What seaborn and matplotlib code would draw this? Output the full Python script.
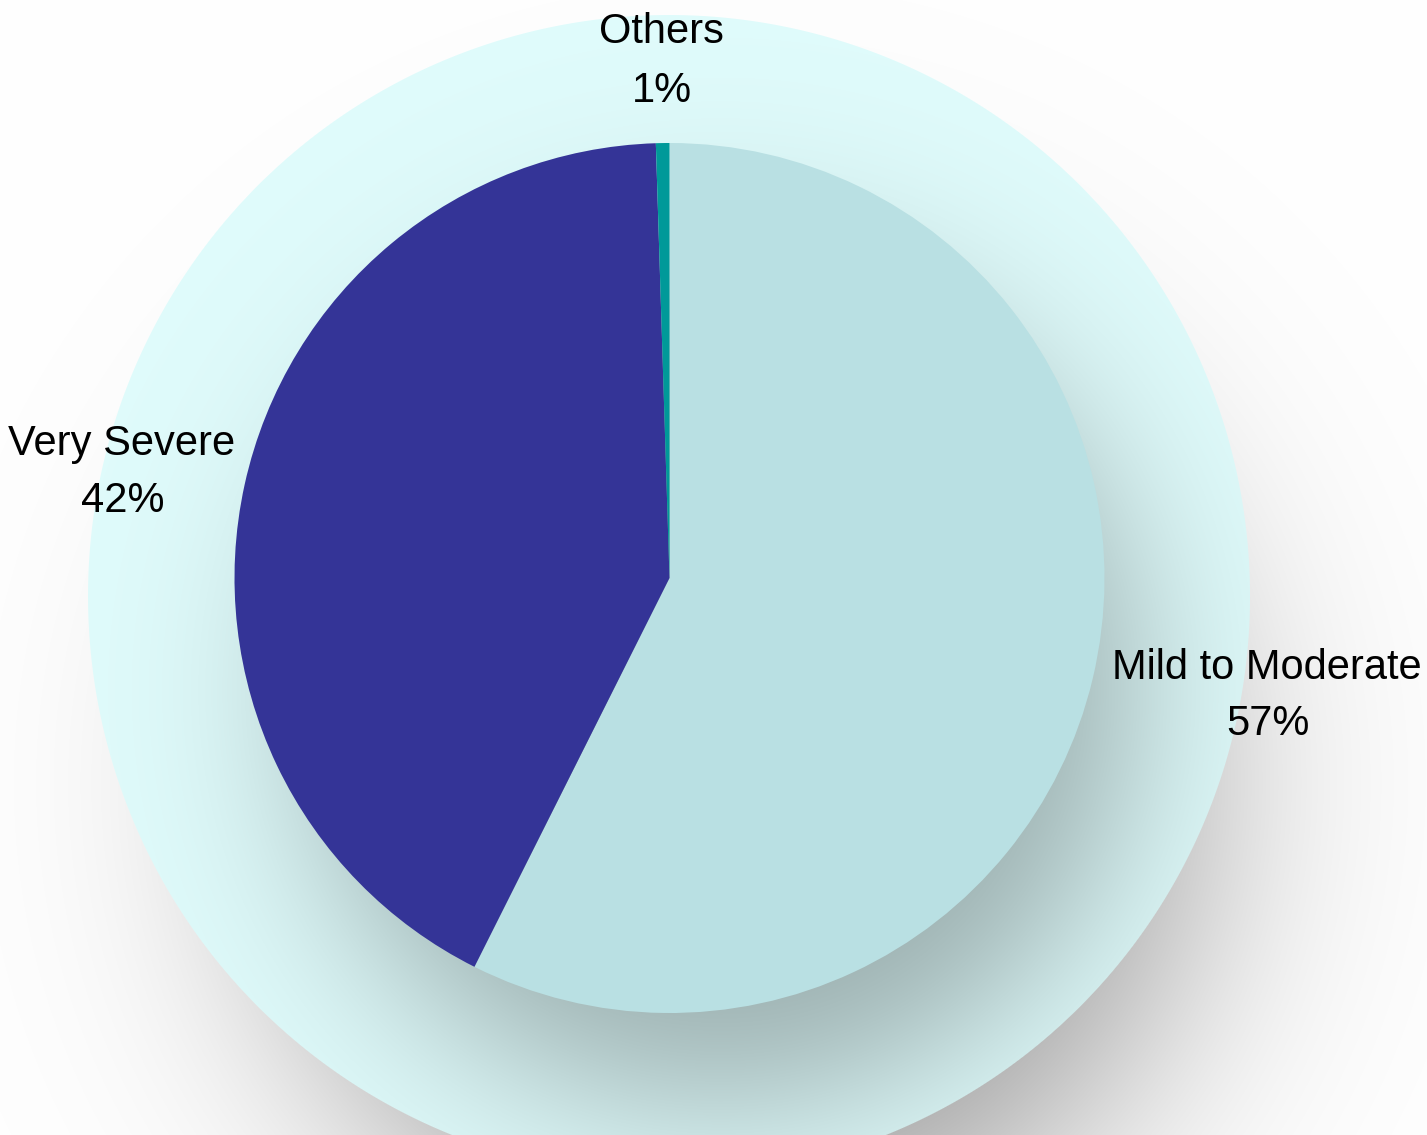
import numpy as np
import matplotlib
matplotlib.use("Agg")
import matplotlib.pyplot as plt
from matplotlib import font_manager
import seaborn as sns

# ---- data ----
categories = ["Mild to Moderate", "Very Severe", "Others"]
values = [57.4, 42.1, 0.5]
colors = ["#B9E0E3", "#343497", "#009999"]

sns.set_theme(style="white")

names = {f.name for f in font_manager.fontManager.ttflist}
if "Liberation Sans Narrow" in names:
    label_family = ["Liberation Sans Narrow", "DejaVu Sans"]
    label_size = 33
else:
    label_family = ["Liberation Sans", "DejaVu Sans"]
    label_size = 30
plt.rcParams['font.family'] = label_family

W, H = 1427, 1135
fig = plt.figure(figsize=(W / 100, H / 100), dpi=100)
ax = fig.add_axes([0, 0, 1, 1])

# geometry (pixel units, *_pix measured from the top)
pie_cx, pie_cy_pix, pie_r = 669.5, 578, 435
bg_cx, bg_cy_pix, bg_r = 669, 596, 581

# ---- background disc with soft shadows ----
yy, xx = np.mgrid[0:H, 0:W] + 0.5

def soft(sd, sigma):
    return 0.5 * (1 - np.tanh(sd / sigma))

img = np.ones((H, W, 3))
# outer drop shadow (offset down-right)
sd = np.hypot(xx - (bg_cx + 62), yy - (bg_cy_pix + 187)) - (bg_r - 126)
a = 0.40 * soft(sd, 150)
img = img * (1 - a[..., None])
# disc colour darkened by the pie's shadow
cyan = np.array([224, 252, 252]) / 255
sd2 = np.hypot(xx - (pie_cx + 51), yy - (pie_cy_pix + 112)) - (pie_r - 30)
a2 = 0.32 * soft(sd2, 113)
disc = cyan[None, None, :] * (1 - a2[..., None])
cov = np.clip(bg_r - np.hypot(xx - bg_cx, yy - bg_cy_pix) + 0.5, 0, 1)[..., None]
img = img * (1 - cov) + disc * cov
ax.imshow(img, extent=(0, W, 0, H), origin='upper', zorder=0, interpolation='bilinear')

# ---- pie ----
ax.pie(values, colors=colors, startangle=90, counterclock=False,
       center=(pie_cx, H - pie_cy_pix), radius=pie_r,
       wedgeprops=dict(linewidth=0, antialiased=True), frame=True)
ax.set_xlim(0, W)
ax.set_ylim(0, H)
ax.set_aspect('equal')
ax.axis('off')

# ---- labels (two lines each, baselines placed separately) ----
pct_labels = [f"{int(np.floor(v + 0.5))}%" for v in values]
# (x centre, baseline of name, baseline of percentage) in pixels from the top
label_pos = [(1267, 679, 735), (122, 455, 512), (661, 43, 102)]
for cat, pct, (lx, y1, y2) in zip(categories, pct_labels, label_pos):
    ax.text(lx, H - y1, cat, ha='center', va='baseline',
            fontsize=label_size, color='black', zorder=5)
    ax.text(lx + 1, H - y2, pct, ha='center', va='baseline',
            fontsize=label_size, color='black', zorder=5)

fig.savefig("out.png", dpi=100)
